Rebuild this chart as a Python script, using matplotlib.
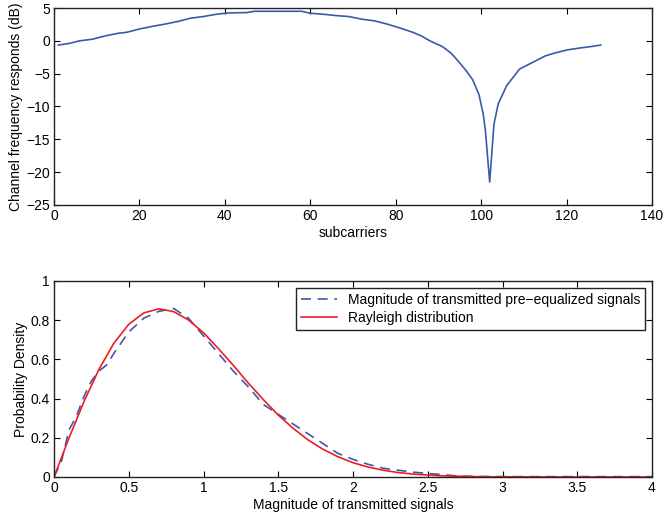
import matplotlib
matplotlib.use('Agg')
import matplotlib.pyplot as plt

plt.rcParams['font.family'] = ['Liberation Sans', 'DejaVu Sans']
plt.rcParams['font.size'] = 10

# Channel frequency response (dB) vs subcarrier index
sub_idx = [1, 3.5, 6, 9, 12, 15, 17, 20, 23, 26, 29, 32, 35, 38, 41, 45, 47, 53,
           58, 60, 63, 66, 69, 72, 75, 78, 81, 84, 86, 88, 91, 93, 94.5, 96.5, 98,
           99.5, 100.5, 101, 102, 103, 104, 106, 109, 112, 115, 117, 120, 123, 126, 128]
chan_db = [-0.65, -0.4, 0.0, 0.25, 0.75, 1.15, 1.3, 1.8, 2.2, 2.55, 2.95, 3.45, 3.7,
           4.05, 4.25, 4.3, 4.5, 4.5, 4.5, 4.2, 4.05, 3.85, 3.7, 3.3, 3.05, 2.55, 1.95,
           1.3, 0.75, 0.0, -0.9, -1.9, -3.0, -4.55, -5.9, -8.2, -11.2, -13.7, -21.5,
           -12.7, -9.6, -6.8, -4.3, -3.3, -2.3, -1.9, -1.4, -1.1, -0.85, -0.65]

# Measured pdf of pre-equalized signal magnitude
mag_x = [0, 0.05, 0.1, 0.15, 0.2, 0.25, 0.3, 0.35, 0.4, 0.5, 0.6, 0.7, 0.8, 0.9, 1.0,
         1.1, 1.2, 1.3, 1.4, 1.5, 1.6, 1.7, 1.8, 1.9, 2.0, 2.1, 2.2, 2.3, 2.4, 2.5,
         2.6, 2.7, 2.8, 3.0, 3.5, 4.0]
mag_pdf = [0.0, 0.08, 0.24, 0.31, 0.41, 0.49, 0.54, 0.57, 0.63, 0.74, 0.81, 0.845,
           0.86, 0.81, 0.72, 0.63, 0.54, 0.46, 0.37, 0.32, 0.27, 0.22, 0.17, 0.12,
           0.09, 0.065, 0.045, 0.035, 0.025, 0.018, 0.012, 0.005, 0.003, 0.002,
           0.002, 0.002]

# Rayleigh reference curve
ray_x = [0, 0.1, 0.2, 0.3, 0.4, 0.5, 0.6, 0.7, 0.8, 0.9, 1.0, 1.1, 1.2, 1.3, 1.4,
         1.5, 1.6, 1.7, 1.8, 1.9, 2.0, 2.1, 2.2, 2.3, 2.4, 2.5, 2.6, 2.7, 2.8, 2.9,
         3.0, 3.5, 4.0]
ray_pdf = [0.0, 0.198, 0.384, 0.548, 0.682, 0.779, 0.837, 0.858, 0.844, 0.801,
           0.736, 0.655, 0.569, 0.479, 0.395, 0.316, 0.248, 0.189, 0.141, 0.103,
           0.073, 0.051, 0.035, 0.023, 0.015, 0.010, 0.006, 0.004, 0.002, 0.001,
           0.001, 0.0, 0.0]


def style_axes(ax):
    ax.tick_params(direction='in', top=True, right=True, length=4, width=0.8,
                   labelsize=10, pad=3)
    for s in ax.spines.values():
        s.set_linewidth(1.0)
        s.set_color('#222222')


fig = plt.figure(figsize=(6.63, 5.25), dpi=100)

ax1 = fig.add_axes([54 / 663, 1 - 205 / 525, (652 - 54) / 663, (205 - 8) / 525])
ax1.plot(sub_idx, chan_db, color='#3a5aa8', linewidth=1.2)
ax1.set_xlim(0, 140)
ax1.set_ylim(-25, 5)
ax1.set_xticks(range(0, 141, 20))
ax1.set_yticks(range(-25, 6, 5))
ax1.set_xlabel('subcarriers', labelpad=2)
ax1.set_ylabel('Channel frequency responds (dB)', labelpad=2)
style_axes(ax1)

ax2 = fig.add_axes([54 / 663, 1 - 477 / 525, (652 - 54) / 663, (477 - 281) / 525])
ax2.plot(mag_x, mag_pdf, '--', color='#3a5aa8', linewidth=1.2, dashes=(6, 4),
         label='Magnitude of transmitted pre\u2212equalized signals')
ax2.plot(ray_x, ray_pdf, color='#ee1c24', linewidth=1.2, label='Rayleigh distribution')
ax2.set_xlim(0, 4)
ax2.set_ylim(0, 1)
ax2.set_xticks([0, 0.5, 1, 1.5, 2, 2.5, 3, 3.5, 4])
ax2.set_xticklabels(['0', '0.5', '1', '1.5', '2', '2.5', '3', '3.5', '4'])
ax2.set_yticks([0, 0.2, 0.4, 0.6, 0.8, 1])
ax2.set_yticklabels(['0', '0.2', '0.4', '0.6', '0.8', '1'])
ax2.set_xlabel('Magnitude of transmitted signals', labelpad=2)
ax2.set_ylabel('Probability Density', labelpad=2)
style_axes(ax2)
leg = ax2.legend(loc='upper right', fancybox=False, framealpha=1, edgecolor='#222222',
                 fontsize=10, borderaxespad=0.5, handlelength=2.6, borderpad=0.35,
                 labelspacing=0.3)
leg.get_frame().set_linewidth(1.0)

fig.savefig('out.png', dpi=100)
plt.close(fig)
